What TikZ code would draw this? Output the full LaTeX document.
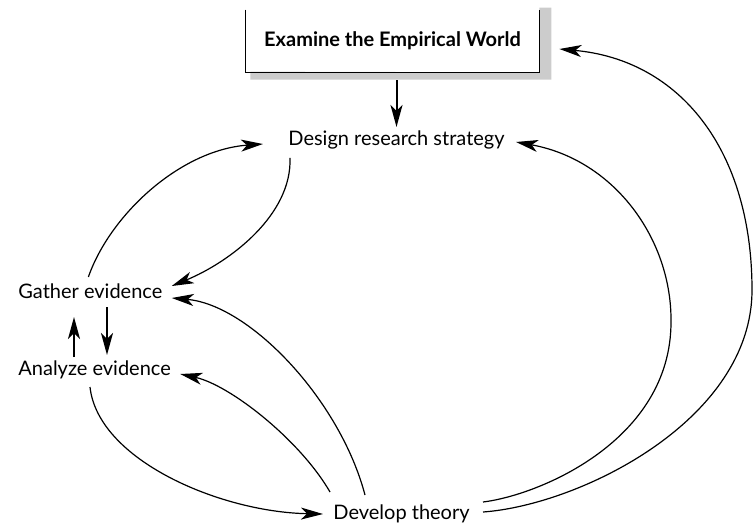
\documentclass[tikz,border=0pt]{standalone}
\usepackage{fontspec}
\setmainfont{Lato}
\usetikzlibrary{arrows.meta, calc}

\begin{document}
\begin{tikzpicture}[x=0.5pt, y=-0.5pt, >={Stealth[length=11pt, width=6pt, inset=3pt]},
    stage/.style={inner sep=0pt, anchor=base west, font=\fontsize{10}{12}\selectfont},
    flow/.style={->, line width=0.6pt},
    bold flow/.style={->, line width=1pt}]
  \useasboundingbox (0,0) rectangle (756,524);

  \node[inner sep=0pt, minimum width=146.5pt, minimum height=31pt, fill=white,
        font=\fontsize{10}{12}\selectfont\bfseries] (exam) at (392.5,41) {Examine the Empirical World};
  \fill[gray!40] ($(exam.north east)+(0,-2)$) -- ++(12,0) -- ++(0,72) -- ++(-301,0)
    -- ++(0,-8) -- (exam.south east) -- cycle;
  \draw[line width=0.8pt] (exam.north west) -- (exam.south west) -- (exam.south east) -- (exam.north east);

  \node[stage] (design) at (288,146) {Design research strategy};
  \node[stage] (gather) at (18,299) {Gather evidence};
  \node[stage] (analyze) at (18,375) {Analyze evidence};
  \node[stage] (develop) at (333,519) {Develop theory};

  \draw[bold flow] ($(design.base |- exam.south)+(0,8)$) -- ($(design.base)+(0,-19)$);

  \draw[flow] ($(gather.base)+(-2,-22)$) .. controls (110,215) and (180,150) .. ($(design.base west)+(-25,-2)$);
  \draw[flow] ($(design.base west)+(2,12)$) .. controls (292,215) and (230,262) .. ($(gather.base east)+(9,-13)$);
  \draw[bold flow] ($(analyze.base west)+(56,-18)$) -- ($(gather.base west)+(56,18)$);
  \draw[bold flow] ($(gather.base west)+(89,8)$) -- ($(analyze.base west)+(89,-20)$);
  \draw[flow] ($(analyze.base west)+(72,12)$) .. controls (98,460) and (220,512) .. ($(develop.base west)+(-10,-5)$);
  \draw[flow] ($(develop.base west)+(-3,-27)$) .. controls (300,440) and (230,385) .. ($(analyze.base east)+(9,-1)$);
  \draw[flow] ($(develop.base west)+(32,-24)$) .. controls (340,400) and (250,305) .. ($(gather.base east)+(9,-1)$);
  \draw[flow] ($(develop.base east)+(13,-17)$) .. controls (540,495) and (671,440) .. (671,322)
    .. controls (672,240) and (615,160) .. ($(design.base east)+(11,-4)$);
  \draw[flow] ($(develop.base east)+(13,-7)$) .. controls (580,505) and (752,420) .. (752,290)
    .. controls (752,150) and (680,60) .. ($(exam.east)+(20,8)$);
\end{tikzpicture}
\end{document}
